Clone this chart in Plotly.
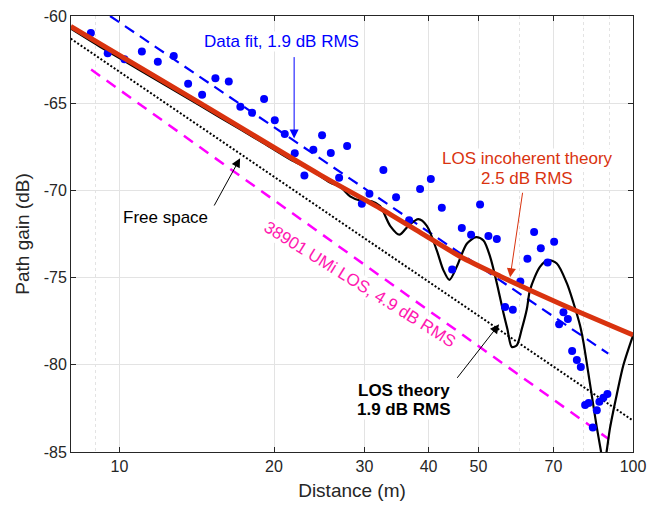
import numpy as np
import plotly.graph_objects as go

# ---------------- data ----------------
meas_dist = [8.80, 9.49, 10.23, 11.06, 11.88, 12.76, 13.61, 14.49, 15.38, 16.33,
             17.20, 18.13, 19.13, 20.07, 20.99, 21.95, 22.92, 23.86, 24.81, 25.80,
             26.78, 27.76, 29.65, 30.68, 32.66, 34.57, 36.65, 38.50, 40.40, 42.44,
             44.45, 46.42, 48.39, 50.38, 52.30, 54.31, 56.36, 58.34, 60.34, 62.29,
             64.19, 66.15, 68.20, 70.22, 71.81, 73.21, 74.67, 76.12, 77.74, 79.14,
             80.68, 81.95, 83.51, 85.02, 86.01, 87.57, 89.16]
meas_gain = [-60.98, -62.13, -62.48, -62.03, -62.63, -62.29, -63.89, -64.51, -63.57, -63.76,
             -65.21, -65.55, -64.76, -65.98, -66.76, -67.87, -69.15, -67.67, -66.84, -67.86,
             -69.27, -67.46, -70.77, -70.19, -68.83, -70.39, -71.71, -69.92, -69.34, -71.00,
             -74.53, -72.16, -72.54, -70.81, -72.61, -72.78, -76.69, -76.84, -75.22, -73.92,
             -72.38, -73.31, -74.14, -72.94, -77.68, -76.99, -77.38, -79.21, -79.73, -80.12,
             -82.31, -82.19, -83.59, -82.60, -82.12, -81.89, -81.67]

los_dist = [8.04, 9.17, 10.97, 13.13, 15.71, 18.79, 21.49, 23.51, 25.72, 26.90,
            28.13, 29.42, 31.00, 32.18, 33.66, 35.09, 36.54, 38.21, 39.68, 41.49,
            42.74, 43.91, 45.39, 47.47, 49.49, 51.15, 52.71, 54.31, 55.93, 56.94,
            58.08, 59.40, 60.74, 62.12, 63.05, 65.94, 68.45, 71.07, 74.33, 76.56,
            78.89, 80.07, 82.51, 85.02, 86.56, 87.73, 88.92, 90.25, 92.99, 95.79, 100.0]
los_gain = [-60.72, -61.76, -63.11, -64.46, -65.82, -67.17, -68.22, -68.80, -69.55, -69.80,
            -70.34, -70.58, -70.62, -70.90, -72.03, -72.54, -72.03, -71.65, -72.03, -73.44,
            -74.57, -75.13, -74.37, -73.06, -72.68, -72.87, -73.81, -75.32, -77.01, -77.95,
            -78.98, -78.88, -77.95, -76.82, -75.69, -74.37, -74.00, -74.19, -75.32, -76.44,
            -77.76, -78.70, -81.14, -83.59, -84.90, -86.00, -84.90, -83.59, -81.70, -80.01, -78.32]

incoh_dist = [8.04, 14.36, 24.59, 32.18, 38.50, 46.07, 55.12, 72.13, 100.0]
incoh_gain = [-60.60, -65.00, -69.11, -71.03, -72.41, -73.79, -74.92, -76.50, -78.29]

fit_dist = [9.59, 89.5]
fit_gain = [-60.0, -79.36]

fs_dist = [8.04, 100.0]
fs_gain = [-61.30, -83.20]

umi_dist = [8.81, 89.5]
umi_gain = [-63.07, -84.24]

x_tickvals = [10, 20, 30, 40, 50, 70, 100]
x_ticktext = ["10", "20", "30", "40", "50", "70", "100"]
x_minorvals = [9, 60, 80, 90]
y_tickvals = [-85, -80, -75, -70, -65, -60]
y_ticktext = ["-85", "-80", "-75", "-70", "-65", "-60"]

# ---------------- styles ----------------
FONT = "Liberation Sans, Arial, Helvetica, sans-serif"
AX = "#262626"
RED = "#D9330F"
BLUE = "#0000FF"
MAG = "#FF00FF"
MAGTXT = "#FF18B0"

fig = go.Figure()
fig.add_trace(go.Scatter(x=umi_dist, y=umi_gain, mode="lines",
                         line=dict(color=MAG, width=2.5, dash="11px,8px")))
fig.add_trace(go.Scatter(x=fs_dist, y=fs_gain, mode="lines",
                         line=dict(color="black", width=2, dash="2px,2px")))
fig.add_trace(go.Scatter(x=fit_dist, y=fit_gain, mode="lines",
                         line=dict(color=BLUE, width=2.2, dash="11px,7px")))
fig.add_trace(go.Scatter(x=los_dist, y=los_gain, mode="lines",
                         line=dict(color="black", width=2.2, shape="spline", smoothing=0.8)))
fig.add_trace(go.Scatter(x=meas_dist, y=meas_gain, mode="markers",
                         marker=dict(color=BLUE, size=8, line=dict(width=0))))
fig.add_trace(go.Scatter(x=incoh_dist, y=incoh_gain, mode="lines",
                         line=dict(color=RED, width=5, shape="spline", smoothing=0.8)))

def lx(d):
    return float(np.log10(d))

ann = []
def text(d, g, s, color, bold=False, angle=0):
    if bold:
        s = "<b>" + s + "</b>"
    ann.append(dict(x=lx(d), y=g, xref="x", yref="y", text=s, showarrow=False,
                    font=dict(family=FONT, size=17, color=color), bgcolor="white",
                    borderpad=0, xanchor="center", yanchor="middle", textangle=angle))

def arrow(d, g, ax, ay, color):
    ann.append(dict(x=lx(d), y=g, xref="x", yref="y", text="", showarrow=True,
                    ax=ax, ay=ay, arrowhead=2, arrowsize=1.8, arrowwidth=1,
                    arrowcolor=color, standoff=0, startstandoff=0))

text(20.69, -61.47, "Data fit, 1.9 dB RMS", BLUE)
text(62.35, -68.17, "LOS incoherent theory", RED)
text(62.07, -69.30, "2.5 dB RMS", RED)
text(12.27, -71.56, "Free space", "black")
text(29.42, -75.37, "38901 UMi LOS, 4.9 dB RMS", MAGTXT, angle=32)
text(35.80, -81.46, "LOS theory", "black", bold=True)
text(35.80, -82.55, "1.9 dB RMS", "black", bold=True)

arrow(21.89, -67.03, 0, -83, BLUE)
arrow(57.64, -74.98, 12.7, -86, RED)
arrow(17.18, -68.16, -26.7, 48.7, "black")
arrow(54.86, -77.68, -43, 55, "black")

fig.update_layout(
    width=668, height=506,
    margin=dict(l=71, r=35, t=8, b=54),
    paper_bgcolor="white", plot_bgcolor="white",
    showlegend=False,
    font=dict(family=FONT, size=16, color=AX),
    annotations=ann,
)
fig.update_xaxes(type="log", range=[0.9058, 2.0],
                 tickmode="array", tickvals=x_tickvals, ticktext=x_ticktext,
                 ticks="inside", ticklen=5, tickcolor=AX, tickwidth=1,
                 showline=True, linecolor=AX, linewidth=1, mirror="ticks",
                 showgrid=True, gridcolor="#E3E3E3", gridwidth=1,
                 minor=dict(tickvals=x_minorvals, showgrid=True, gridcolor="#E3E3E3",
                            griddash="dot", ticks=""),
                 zeroline=False, tickfont=dict(size=16, color=AX),
                 ticklabeloverflow="allow",
                 title=dict(text="Distance (m)", font=dict(size=19, color=AX), standoff=9))
fig.update_yaxes(range=[-85, -60],
                 tickmode="array", tickvals=y_tickvals, ticktext=y_ticktext,
                 ticks="inside", ticklen=5, tickcolor=AX, tickwidth=1,
                 showline=True, linecolor=AX, linewidth=1, mirror="ticks",
                 showgrid=True, gridcolor="#E3E3E3", gridwidth=1,
                 zeroline=False, tickfont=dict(size=16, color=AX),
                 ticklabeloverflow="allow",
                 title=dict(text="Path gain (dB)", font=dict(size=19, color=AX), standoff=9))

fig.write_html("out.html")
